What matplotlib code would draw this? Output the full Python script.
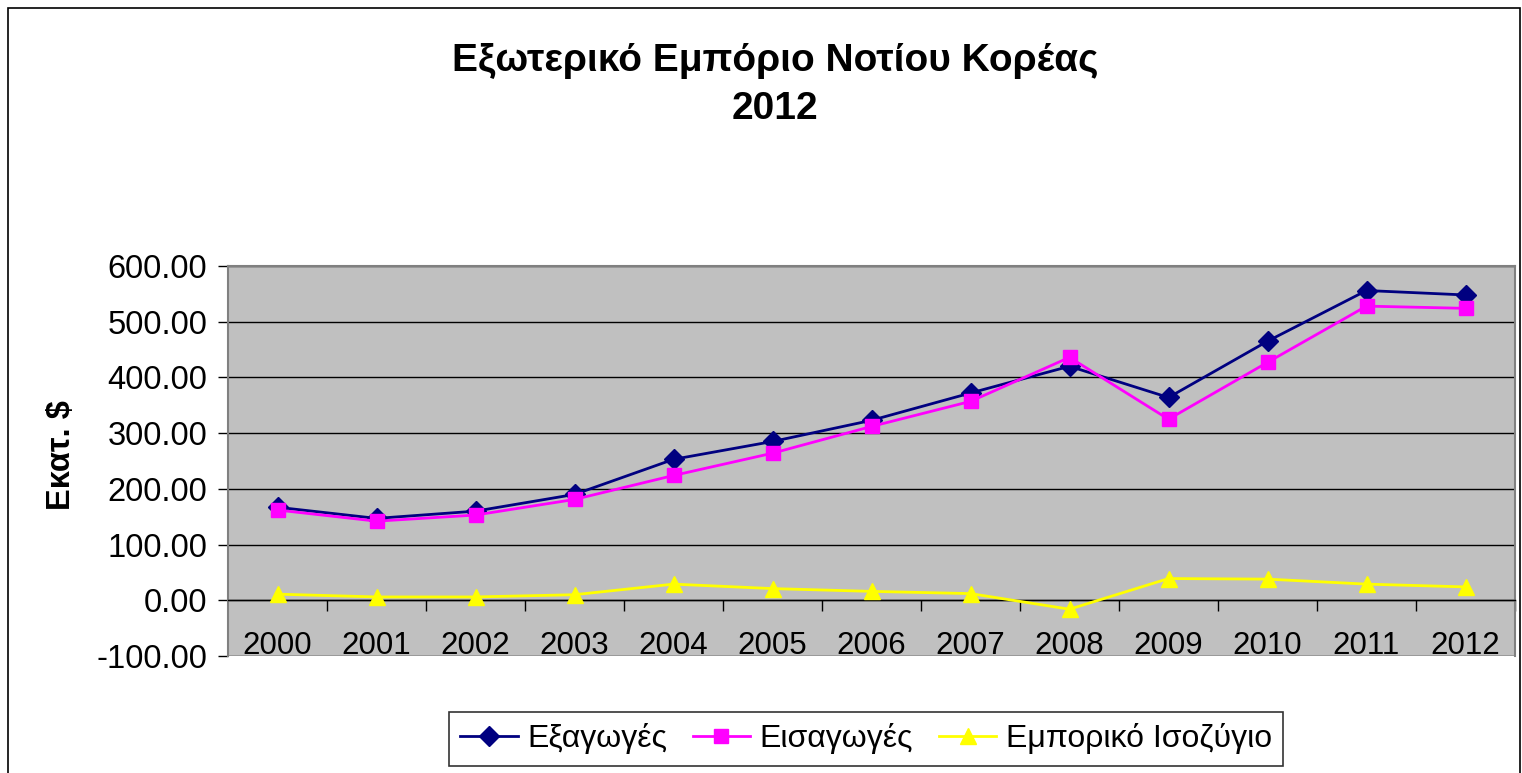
import matplotlib
matplotlib.use("Agg")
import matplotlib.pyplot as plt
from matplotlib.patches import Rectangle
import numpy as np

years = ["2000", "2001", "2002", "2003", "2004", "2005", "2006",
         "2007", "2008", "2009", "2010", "2011", "2012"]
exports = [167, 147, 160, 190, 253, 285, 323, 372, 420, 364, 465, 556, 548]
imports = [162, 142, 153, 181, 224, 264, 312, 357, 436, 325, 427, 528, 524]
balance = [11, 6, 6, 10, 29, 21, 16, 12, -16, 39, 38, 29, 24]

title = "Εξωτερικό Εμπόριο Νοτίου Κορέας\n2012"
ylabel = "Εκατ. $"
series_names = ["Εξαγωγές", "Εισαγωγές", "Εμπορικό Ισοζύγιο"]

plt.rcParams['font.family'] = ['Liberation Sans', 'DejaVu Sans']

fig = plt.figure(figsize=(15.22, 7.73), dpi=100)
fig.patch.set_facecolor("white")
# outer chart border
fig.add_artist(Rectangle((8/1522, -0.01), (1522-8)/1522 - 0.001, 1 - 8/773 + 0.01,
                         transform=fig.transFigure, fill=False,
                         edgecolor="black", linewidth=1.2))

ax = fig.add_axes([228/1522, 1 - 656/773, (1515-228)/1522, (656-266)/773])
ax.set_facecolor("#C0C0C0")

x = np.arange(len(years))
ax.plot(x, exports, color="#000080", marker="D", markersize=10, linewidth=2,
        label=series_names[0], zorder=3)
ax.plot(x, imports, color="#FF00FF", marker="s", markersize=10, linewidth=2,
        label=series_names[1], zorder=4)
ax.plot(x, balance, color="#FFFF00", marker="^", markersize=12, linewidth=2,
        label=series_names[2], zorder=5)

ax.set_xlim(-0.5, len(years) - 0.5)
ax.set_ylim(-100, 600)
yt = np.arange(-100, 601, 100)
ax.set_yticks(yt)
ax.set_yticklabels([f"{v:.2f}" for v in yt], fontsize=23.5)
for v in yt:
    ax.axhline(v, color="#000000", linewidth=1, zorder=1)

ax.spines['bottom'].set_position(('data', 0))
ax.spines['bottom'].set_color("#000000")
ax.spines['bottom'].set_linewidth(1)
for s in ['top', 'right', 'left']:
    ax.spines[s].set_color("#808080")
    ax.spines[s].set_linewidth(1.5)

ax.set_xticks(x)
ax.set_xticklabels(years, fontsize=22.5)
ax.tick_params(axis='x', which='major', length=0, pad=22)
ax.set_xticks(np.arange(-0.5, len(years) + 0.5, 1.0)[1:], minor=True)
ax.tick_params(axis='x', which='minor', length=8, width=1, direction='out',
               color="black")
ax.tick_params(axis='y', length=7, width=1, direction='out', pad=8)

fig.text(62/1522, 1 - 455/773, ylabel, rotation=90, fontsize=23.5,
         fontweight='bold', ha='center', va='center')
fig.text(775/1522, 1 - 85/773, title, fontsize=28, fontweight='bold',
         ha='center', va='center', linespacing=1.45)

leg = fig.legend(loc='center', bbox_to_anchor=(866/1522, 1 - 739/773),
                 ncol=3, fontsize=23, frameon=True, fancybox=False,
                 edgecolor="black", handlelength=1.8, columnspacing=0.8,
                 handletextpad=0.3, borderpad=0.35)
leg.get_frame().set_linewidth(1.2)

fig.savefig("out.png", dpi=100, facecolor="white")
